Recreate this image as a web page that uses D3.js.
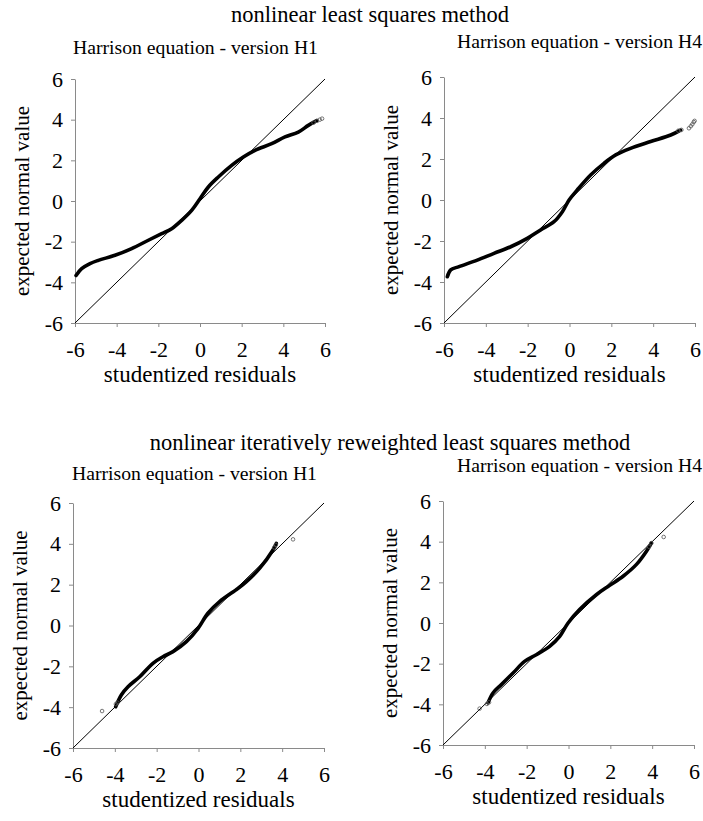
<!DOCTYPE html>
<html>
<head>
<meta charset="utf-8">
<script src="https://cdn.jsdelivr.net/npm/d3@7"></script>
<style>
  body { margin: 0; background: #fff; }
</style>
</head>
<body>
<svg id="chart"></svg>
<script>
let outerWidth = 703;
let outerHeight = 821;
let serif = '"Liberation Serif", "Times New Roman", serif'

let ticks = [-6, -4, -2, 0, 2, 4, 6]
let domain = [-6, 6]

let titles = ['nonlinear least squares method', 'nonlinear iteratively reweighted least squares method']
let subtitles = ['Harrison equation - version H1', 'Harrison equation - version H4', 'Harrison equation - version H1', 'Harrison equation - version H4']
let xLabel = 'studentized residuals'
let yLabel = 'expected normal value'

// [studentized residual, expected normal value]
let nlsH1 = [[-5.95, -3.66], [-5.68, -3.33], [-5.28, -3.08], [-4.88, -2.92], [-4.08, -2.67], [-3.28, -2.34],
  [-2.48, -1.93], [-1.84, -1.61], [-1.36, -1.36], [-0.88, -0.95], [-0.4, -0.46], [0.0, 0.11], [0.4, 0.69],
  [0.88, 1.18], [1.52, 1.75], [2.08, 2.16], [2.64, 2.49], [3.44, 2.82], [4.08, 3.15], [4.72, 3.39], [5.2, 3.72], [5.6, 3.95]]
let nlsH1Tail = [[5.45, 3.85], [5.62, 3.94], [5.75, 4.0], [5.86, 4.05]]

let nlsH4 = [[-5.84, -3.74], [-5.68, -3.41], [-5.28, -3.25], [-4.41, -2.93], [-3.61, -2.6], [-2.81, -2.28],
  [-2.02, -1.87], [-1.38, -1.46], [-0.74, -1.06], [-0.34, -0.57], [-0.02, 0.0], [0.37, 0.49], [1.01, 1.22],
  [1.65, 1.79], [2.21, 2.2], [2.92, 2.52], [3.88, 2.85], [4.84, 3.17], [5.31, 3.41]]
let nlsH4Tail = [[5.2, 3.38], [5.35, 3.42], [5.71, 3.5], [5.8, 3.6], [5.87, 3.69], [5.94, 3.8], [5.98, 3.86]]

let irlsH1 = [[-3.96, -3.98], [-3.69, -3.4], [-3.37, -3.0], [-2.81, -2.51], [-2.18, -1.85], [-1.7, -1.53],
  [-1.22, -1.28], [-0.58, -0.79], [-0.02, -0.14], [0.45, 0.6], [1.01, 1.17], [1.89, 1.82], [2.29, 2.15],
  [2.92, 2.8], [3.56, 3.7], [3.72, 4.02]]
let irlsH1Tail = [[-4.61, -4.19], [-3.95, -3.85], [-3.88, -3.78], [3.62, 3.82], [3.7, 3.95], [4.52, 4.22]]

let irlsH4 = [[-3.85, -3.93], [-3.61, -3.44], [-3.21, -3.03], [-2.65, -2.46], [-2.1, -1.89], [-1.54, -1.56],
  [-0.9, -1.15], [-0.42, -0.66], [-0.02, 0.0], [0.53, 0.66], [1.33, 1.39], [1.97, 1.85], [2.61, 2.3],
  [3.24, 2.87], [3.72, 3.52], [3.96, 3.93]]
let irlsH4Tail = [[-4.25, -4.21], [-3.9, -3.98], [-3.8, -3.9], [3.85, 3.75], [3.96, 3.93], [4.55, 4.23]]

// plot rectangles measured on the reference
let panels = [
  { left: 75, right: 325, top: 79, bottom: 323, sub: 0, subX: 73, subY: 54, anchor: 'start', data: nlsH1, tail: nlsH1Tail },
  { left: 444, right: 695, top: 77, bottom: 323, sub: 1, subX: 702, subY: 48, anchor: 'end', data: nlsH4, tail: nlsH4Tail },
  { left: 73, right: 324, top: 503, bottom: 748, sub: 2, subX: 72, subY: 480, anchor: 'start', data: irlsH1, tail: irlsH1Tail },
  { left: 443, right: 694, top: 501, bottom: 745, sub: 3, subX: 702, subY: 472, anchor: 'end', data: irlsH4, tail: irlsH4Tail }
]

let svg = d3
  .select("#chart")
  .attr("width", outerWidth)
  .attr("height", outerHeight)
  .style("font-family", serif)

svg.append("rect")
  .attr("width", outerWidth)
  .attr("height", outerHeight)
  .attr("fill", "#fff")

svg.append("text") // top title
  .attr("x", 370)
  .attr("y", 22)
  .attr("text-anchor", "middle")
  .style("font-family", serif)
  .style("font-size", "22.5px")
  .text(titles[0])

svg.append("text") // bottom title
  .attr("x", 390)
  .attr("y", 450)
  .attr("text-anchor", "middle")
  .style("font-family", serif)
  .style("font-size", "22.5px")
  .text(titles[1])

function drawPanel(p) {
  let xScale = d3.scaleLinear().domain(domain).range([p.left, p.right])
  let yScale = d3.scaleLinear().domain(domain).range([p.bottom, p.top])

  let g = svg.append("g")

  g.append("text") // subtitle
    .attr("x", p.subX)
    .attr("y", p.subY)
    .attr("text-anchor", p.anchor)
    .style("font-family", serif)
    .style("font-size", "19.7px")
    .text(subtitles[p.sub])

  let fmt = d => String(d) // plain hyphen like the scan
  let xAxis = g.append("g")
    .attr("transform", "translate(0," + p.bottom + ")")
    .call(d3.axisBottom(xScale).tickValues(ticks).tickFormat(fmt).tickSize(4).tickPadding(14).tickSizeOuter(0))
  let yAxis = g.append("g")
    .attr("transform", "translate(" + p.left + ",0)")
    .call(d3.axisLeft(yScale).tickValues(ticks).tickFormat(fmt).tickSize(4).tickPadding(8).tickSizeOuter(0))

  for (let ax of [xAxis, yAxis]) {
    ax.attr("font-family", null).attr("font-size", null)
    ax.selectAll(".domain, line").attr("stroke", "#8a8a8a")
    ax.selectAll("text")
      .style("font-family", serif)
      .style("font-size", "22px")
      .attr("fill", "#000")
  }

  g.append("text") // x title
    .attr("x", (p.left + p.right) / 2)
    .attr("y", p.bottom + 59)
    .attr("text-anchor", "middle")
    .style("font-family", serif)
    .style("font-size", "23px")
    .text(xLabel)

  let cy = (p.top + p.bottom) / 2
  let cx = p.left - 53
  g.append("text") // y title
    .attr("x", cx)
    .attr("y", cy)
    .attr("dy", "0.35em")
    .attr("text-anchor", "middle")
    .attr("transform", `rotate(-90 ${cx} ${cy})`)
    .style("font-family", serif)
    .style("font-size", "21px")
    .text(yLabel)

  let lineGen = d3.line()
    .x(d => xScale(d[0]))
    .y(d => yScale(d[1]))

  g.append("path") // y = x reference
    .attr("d", lineGen([[domain[0], domain[0]], [domain[1], domain[1]]]))
    .attr("stroke", "#000")
    .attr("stroke-width", 1)
    .attr("fill", "none")

  g.append("path") // the dense band of residual points
    .attr("d", lineGen.curve(d3.curveCatmullRom)(p.data))
    .attr("stroke", "#000")
    .attr("stroke-width", 3.6)
    .attr("stroke-linecap", "round")
    .attr("fill", "none")

  g.selectAll("circle.tail")
    .data(p.tail)
    .enter()
    .append("circle")
    .attr("class", "tail")
    .attr("cx", d => xScale(d[0]))
    .attr("cy", d => yScale(d[1]))
    .attr("r", 1.8)
    .attr("fill", "none")
    .attr("stroke", "#555")
    .attr("stroke-width", 0.8)
}

for (let p of panels) drawPanel(p)
</script>
</body>
</html>
